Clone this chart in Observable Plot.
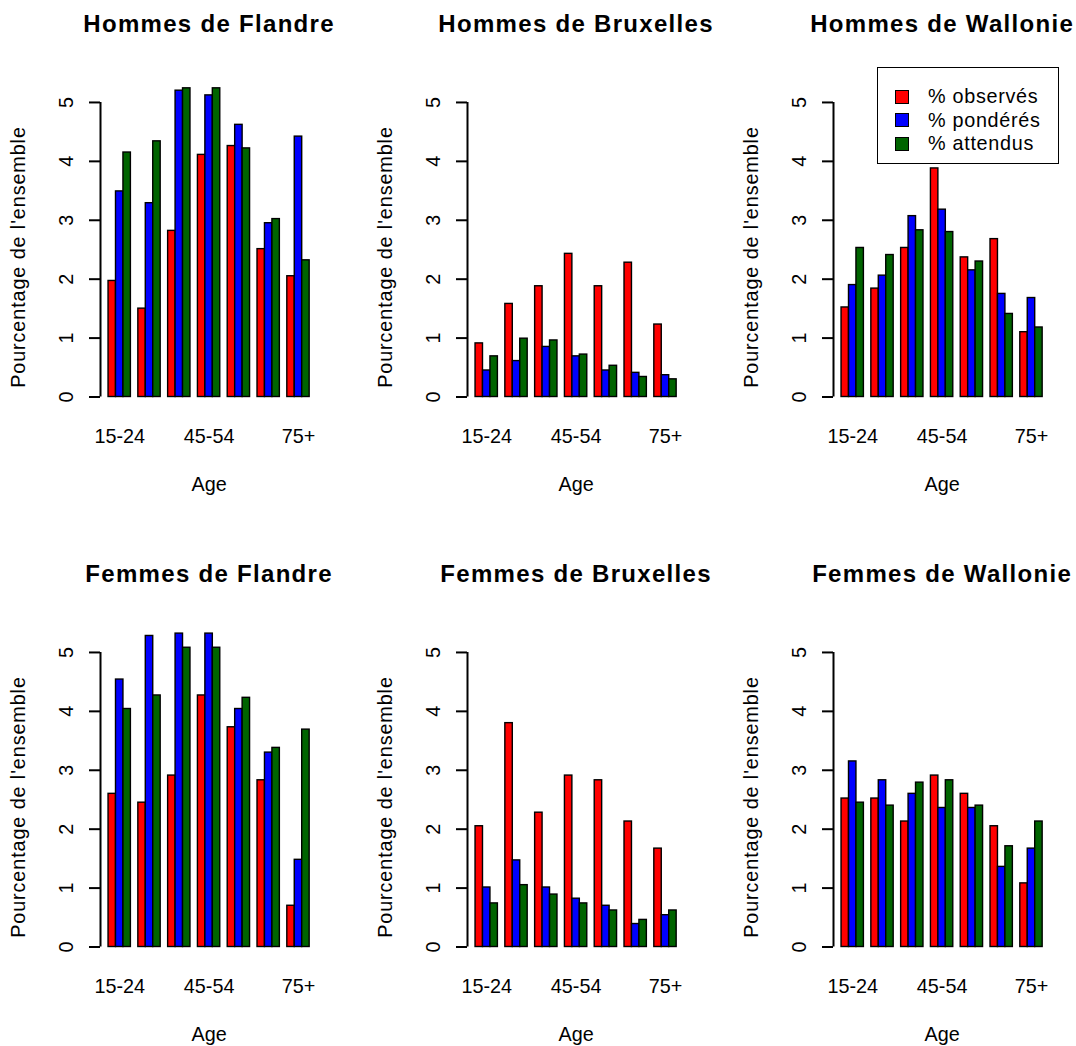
<!DOCTYPE html>
<html>
<head>
<meta charset="utf-8">
<script src="https://cdn.jsdelivr.net/npm/d3@7"></script>
<script src="https://cdn.jsdelivr.net/npm/@observablehq/plot@0.6"></script>
<style>
  html, body { margin: 0; padding: 0; background: #ffffff; }
  #chart { position: relative; width: 1076px; height: 1046px; overflow: hidden;
           font-family: "Liberation Sans", Arial, Helvetica, sans-serif; color: #000; }
  .panel { position: absolute; }
  #legend { position: absolute; box-sizing: border-box; border: 1.5px solid #000; background: #fff;
            font-size: 19.8px; padding-top: 17px; }
  #legend .row { height: 23.5px; display: flex; align-items: center; position: relative; }
  #legend .sw { position: absolute; left: 17px; width: 14px; height: 14px; box-sizing: border-box;
                border: 1.4px solid #000; top: 4.75px; }
  #legend .lab { position: absolute; left: 50px; top: 0; line-height: 23.5px; white-space: nowrap;
                 letter-spacing: 0.7px; }
</style>
</head>
<body>
<div id="chart"></div>
<script>
// ---------- data ----------
const ages = ["15-24", "25-34", "35-44", "45-54", "55-64", "65-74", "75+"];
const agesShown = ["15-24", "45-54", "75+"];
const seriesNames = ["% observés", "% pondérés", "% attendus"];
const seriesColors = ["#ff0000", "#0000ff", "#006400"];
const yTicks = [0, 1, 2, 3, 4, 5];
const panelTitles = ["Hommes de Flandre", "Hommes de Bruxelles", "Hommes de Wallonie",
                     "Femmes de Flandre", "Femmes de Bruxelles", "Femmes de Wallonie"];
const xTitle = "Age";
const yTitle = "Pourcentage de l'ensemble";

const hommesFlandreObserves = [1.97, 1.50, 2.82, 4.11, 4.26, 2.51, 2.05];
const hommesFlandrePonderes = [3.49, 3.29, 5.20, 5.12, 4.62, 2.95, 4.42];
const hommesFlandreAttendus = [4.15, 4.34, 5.24, 5.24, 4.22, 3.02, 2.32];

const hommesBruxellesObserves = [0.91, 1.58, 1.88, 2.43, 1.88, 2.28, 1.23];
const hommesBruxellesPonderes = [0.45, 0.61, 0.85, 0.69, 0.45, 0.41, 0.37];
const hommesBruxellesAttendus = [0.69, 0.99, 0.96, 0.72, 0.53, 0.34, 0.30];

const hommesWallonieObserves = [1.52, 1.84, 2.53, 3.88, 2.37, 2.68, 1.10];
const hommesWalloniePonderes = [1.90, 2.06, 3.07, 3.18, 2.15, 1.75, 1.68];
const hommesWallonieAttendus = [2.53, 2.41, 2.83, 2.80, 2.30, 1.41, 1.18];

const femmesFlandreObserves = [2.60, 2.45, 2.91, 4.27, 3.73, 2.83, 0.70];
const femmesFlandrePonderes = [4.54, 5.28, 5.32, 5.32, 4.04, 3.30, 1.48];
const femmesFlandreAttendus = [4.04, 4.27, 5.08, 5.08, 4.23, 3.38, 3.69];

const femmesBruxellesObserves = [2.05, 3.80, 2.28, 2.91, 2.83, 2.13, 1.67];
const femmesBruxellesPonderes = [1.01, 1.47, 1.01, 0.82, 0.70, 0.39, 0.54];
const femmesBruxellesAttendus = [0.74, 1.05, 0.89, 0.74, 0.62, 0.46, 0.62];

const femmesWallonieObserves = [2.52, 2.52, 2.13, 2.91, 2.60, 2.05, 1.08];
const femmesWalloniePonderes = [3.15, 2.83, 2.60, 2.36, 2.36, 1.36, 1.67];
const femmesWallonieAttendus = [2.45, 2.40, 2.79, 2.83, 2.40, 1.71, 2.13];

const panelValues = [
  [hommesFlandreObserves, hommesFlandrePonderes, hommesFlandreAttendus],
  [hommesBruxellesObserves, hommesBruxellesPonderes, hommesBruxellesAttendus],
  [hommesWallonieObserves, hommesWalloniePonderes, hommesWallonieAttendus],
  [femmesFlandreObserves, femmesFlandrePonderes, femmesFlandreAttendus],
  [femmesBruxellesObserves, femmesBruxellesPonderes, femmesBruxellesAttendus],
  [femmesWallonieObserves, femmesWalloniePonderes, femmesWallonieAttendus]
];

// ---------- layout ----------
const colLeft = [0, 366.7, 733.3];
const rowTop = [0, 549.7];
const W = 342, H = 496;
const mL = 100, mR = 24.8, mT = 72.5, mB = 99.5;

// barplot slot geometry (beside = TRUE, space = c(0, 1))
const nG = ages.length, nS = seriesNames.length, step = nS + 1;
const lo = 1, hi = nG * step;
const pad = 0.04 * (hi - lo);
const groupCenter = a => 1 + ages.indexOf(a) * step + nS / 2;

const chart = document.getElementById("chart");

panelValues.forEach((vals, p) => {
  const rows = [];
  ages.forEach((age, gi) => {
    seriesNames.forEach((s, si) => {
      const x1 = 1 + gi * step + si;
      rows.push({age, series: s, value: vals[si][gi], x1, x2: x1 + 1});
    });
  });

  const svg = Plot.plot({
    width: W, height: H,
    marginLeft: mL, marginRight: mR, marginTop: mT, marginBottom: mB,
    style: {fontFamily: "Liberation Sans, Arial, Helvetica, sans-serif", fontSize: "19.8px",
            overflow: "visible", background: "transparent", color: "#000"},
    x: {domain: [lo - pad, hi + pad], axis: null},
    y: {domain: [0, 5.5]},
    color: {type: "ordinal", domain: seriesNames, range: seriesColors},
    marks: [
      Plot.rect(rows, {x1: "x1", x2: "x2", y1: 0, y2: "value", fill: "series",
                       stroke: "#000", strokeWidth: 1.4}),
      Plot.ruleX([lo - pad], {x: d => d, y1: 0, y2: d3.max(yTicks), stroke: "#000", strokeWidth: 2}),
      Plot.axisY({ticks: yTicks, tickSize: 11, tickFormat: () => "", label: null, strokeWidth: 2}),
      Plot.text(yTicks, {y: d => d, text: d => String(d), frameAnchor: "left", dx: -33.5,
                         rotate: -90, textAnchor: "middle", lineAnchor: "middle"}),
      Plot.text(agesShown, {x: groupCenter, text: d => d, frameAnchor: "bottom", dy: 40,
                            textAnchor: "middle", lineAnchor: "middle"}),
      Plot.text([xTitle], {frameAnchor: "bottom", dy: 88, textAnchor: "middle", lineAnchor: "middle"}),
      Plot.text([yTitle], {frameAnchor: "left", dx: -82, dy: 22, rotate: -90,
                           textAnchor: "middle", lineAnchor: "middle"}),
      Plot.text([panelTitles[p]], {frameAnchor: "top", dy: -49, fontWeight: "bold", fontSize: 24,
                                   textAnchor: "middle", lineAnchor: "middle"})
    ]
  });
  const sel = d3.select(svg).selectAll("text");
  sel.filter(function () { return this.textContent === panelTitles[p]; })
    .style("letter-spacing", "1.3px");
  sel.filter(function () { return this.textContent === yTitle; })
    .style("letter-spacing", "0.9px");

  const wrap = document.createElement("div");
  wrap.className = "panel";
  wrap.style.left = colLeft[p % 3] + "px";
  wrap.style.top = rowTop[Math.floor(p / 3)] + "px";
  wrap.appendChild(svg);
  chart.appendChild(wrap);
});

// ---------- legend (top-right panel) ----------
const legend = document.createElement("div");
legend.id = "legend";
legend.style.left = "877px";
legend.style.top = "67px";
legend.style.width = "182px";
legend.style.height = "97px";
seriesNames.forEach((s, i) => {
  const row = document.createElement("div");
  row.className = "row";
  const sw = document.createElement("div");
  sw.className = "sw";
  sw.style.background = seriesColors[i];
  const lab = document.createElement("div");
  lab.className = "lab";
  lab.textContent = s;
  row.appendChild(sw);
  row.appendChild(lab);
  legend.appendChild(row);
});
chart.appendChild(legend);
</script>
</body>
</html>
